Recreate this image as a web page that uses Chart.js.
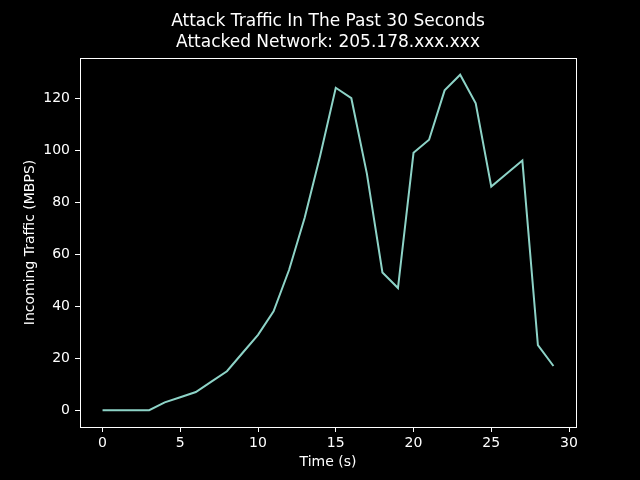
<!DOCTYPE html>
<html>
<head>
<meta charset="utf-8">
<script src="https://cdn.jsdelivr.net/npm/chart.js@4.4.1/dist/chart.umd.min.js"></script>
<style>
  body { margin: 0; background: #000; }
  canvas { display: block; }
</style>
</head>
<body>
<canvas id="chart" width="640" height="480"></canvas>
<script>
// data
const seconds = [0,1,2,3,4,5,6,7,8,9,10,11,12,13,14,15,16,17,18,19,20,21,22,23,24,25,26,27,28,29];
const traffic = [0,0,0,0,3,5,7,11,15,22,29,38,54,74,98,124,120,91,53,47,99,104,123,129,118,86,91,96,25,17];
const xTicks = [0,5,10,15,20,25,30];
const yTicks = [0,20,40,60,80,100,120];
const titleLines = ['Attack Traffic In The Past 30 Seconds', 'Attacked Network: 205.178.xxx.xxx'];

const FONT = 'DejaVu Sans';

// matplotlib-style figure: black bg, title, box around the axes
const frame = {
    id: 'frame',
    beforeDraw(chart) {
        const c = chart.ctx;
        c.save();
        c.fillStyle = '#000';
        c.fillRect(0, 0, chart.width, chart.height);
        c.restore();
    },
    afterDraw(chart) {
        const c = chart.ctx;
        const a = chart.chartArea;
        c.save();
        c.strokeStyle = '#fff';
        c.lineWidth = 1;
        c.strokeRect(Math.round(a.left) + 0.5, Math.round(a.top) + 0.5,
                     Math.round(a.right - a.left), Math.round(a.bottom - a.top));
        c.fillStyle = '#fff';
        c.font = '17px "' + FONT + '"';
        c.textAlign = 'center';
        c.textBaseline = 'middle';
        const cx = (a.left + a.right) / 2;
        c.fillText(titleLines[0], cx, 22);
        c.fillText(titleLines[1], cx, 43);
        c.restore();
    }
};

new Chart(document.getElementById('chart'), {
    type: 'line',
    data: {
        labels: seconds,
        datasets: [{
            data: seconds.map((s, i) => ({x: s, y: traffic[i]})),
            borderColor: '#8dd3c7',
            borderWidth: 2,
            pointRadius: 0,
            tension: 0,
            fill: false
        }]
    },
    options: {
        responsive: false,
        animation: false,
        layout: { padding: { top: 58, right: 64, left: 0, bottom: 0 } },
        plugins: { legend: { display: false }, tooltip: { enabled: false } },
        scales: {
            x: {
                type: 'linear',
                min: -1.45,
                max: 30.45,
                afterBuildTicks: s => { s.ticks = xTicks.map(v => ({value: v})); },
                afterFit: s => { s.height = 53; },
                grid: { drawOnChartArea: false, color: '#fff', tickLength: 5, tickWidth: 1 },
                border: { color: '#fff' },
                ticks: { color: '#fff', font: { family: FONT, size: 14 }, padding: 3, maxRotation: 0 },
                title: { display: true, text: 'Time (s)', color: '#fff',
                         font: { family: FONT, size: 14 }, padding: { top: 0, bottom: 9 } }
            },
            y: {
                min: -6.45,
                max: 135.45,
                afterBuildTicks: s => { s.ticks = yTicks.map(v => ({value: v})); },
                afterFit: s => { s.width = 80; },
                grid: { drawOnChartArea: false, color: '#fff', tickLength: 5, tickWidth: 1 },
                border: { color: '#fff' },
                ticks: { color: '#fff', font: { family: FONT, size: 14 }, padding: 5 },
                title: { display: true, text: 'Incoming Traffic (MBPS)', color: '#fff',
                         font: { family: FONT, size: 14 }, padding: { top: 22, bottom: 0 } }
            }
        }
    },
    plugins: [frame]
});
</script>
</body>
</html>
